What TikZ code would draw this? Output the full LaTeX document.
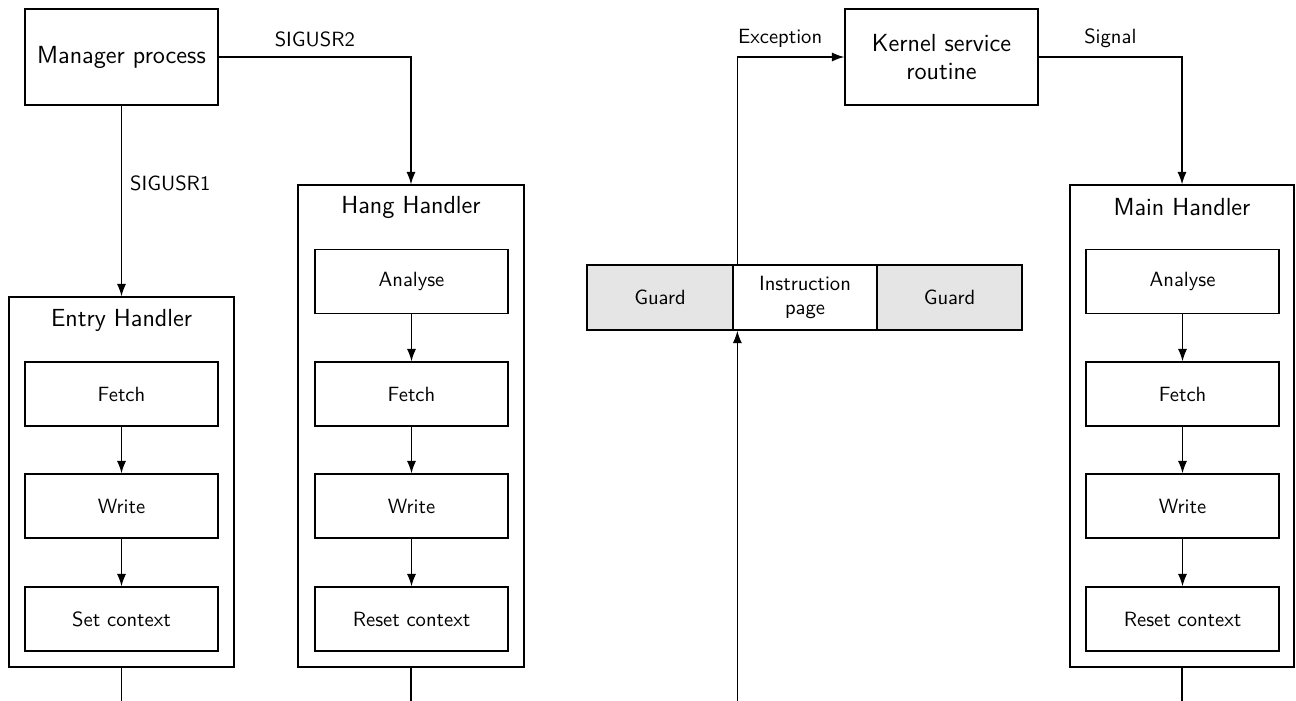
\documentclass[tikz,border=0pt]{standalone}
\usetikzlibrary{arrows.meta}
\newlength\px
\setlength\px{0.4854pt}
\begin{document}
\begin{tikzpicture}[x=0.4854pt,y=-0.4854pt,
  font=\sffamily,
  line width=0.65pt,
  >={Latex[length=6pt,width=4.4pt]},
  bigbox/.style={draw,minimum width=193\px,minimum height=96\px,inner sep=0pt,align=center,font=\sffamily\large},
  handler/.style={draw,inner sep=0pt},
  htitle/.style={font=\sffamily\large,inner sep=0pt},
  stepbox/.style={draw,minimum width=193\px,minimum height=64\px,inner sep=0pt},
  page/.style={draw,minimum height=65\px,inner sep=0pt,align=center},
  guardbox/.style={page,fill=gray!20},
  lbl/.style={font=\sffamily,inner sep=0pt}
]
\useasboundingbox (0,0) rectangle (1296,700);
\coordinate (base) at (0,701.2);

% top-level processes
\node[bigbox] (mgr) at (121.5,57) {Manager process};
\node[bigbox] (kernel) at (941.5,57) {Kernel service\\routine};

% handler frames
\node[handler,minimum width=225\px,minimum height=370\px] (entry) at (121.5,482) {};
\node[handler,minimum width=226\px,minimum height=482\px] (hang) at (411,426) {};
\node[handler,minimum width=224\px,minimum height=482\px] (main) at (1182,426) {};

\node[htitle] (entryT) at (121.5,320) {Entry Handler};
\node[htitle] (hangT) at (411,207) {Hang Handler};
\node[htitle] (mainT) at (1182,207) {Main Handler};

% entry handler steps
\node[stepbox] (e1) at (121.5,394) {Fetch};
\node[stepbox] (e2) at (121.5,506) {Write};
\node[stepbox] (e3) at (121.5,619) {Set context};

% hang handler steps
\node[stepbox] (h0) at (411.5,281.5) {Analyse};
\node[stepbox] (h1) at (411.5,394) {Fetch};
\node[stepbox] (h2) at (411.5,506) {Write};
\node[stepbox] (h3) at (411.5,619) {Reset context};

% main handler steps
\node[stepbox] (m0) at (1182.5,281.5) {Analyse};
\node[stepbox] (m1) at (1182.5,394) {Fetch};
\node[stepbox] (m2) at (1182.5,506) {Write};
\node[stepbox] (m3) at (1182.5,619) {Reset context};

% memory pages
\node[guardbox,minimum width=146\px] (g1) at (660,297.5) {Guard};
\node[page,minimum width=144\px] (instr) at (805,297.5) {Instruction\\page};
\node[guardbox,minimum width=145\px] (g2) at (949.5,297.5) {Guard};

\coordinate (itop) at ([xshift=5\px]instr.north west);
\coordinate (ibot) at ([xshift=5\px]instr.south west);

% signal paths
\draw[->] (mgr) -- node[lbl,pos=0.41,right=8\px] {SIGUSR1} (entry);
\draw[->] (mgr.east) -| node[lbl,pos=0.25,above=9\px] {SIGUSR2} (hang.north);
\draw[->] (itop) |- node[lbl,pos=0.7,above=9\px] {Exception} (kernel.west);
\draw[->] (kernel.east) -| node[lbl,pos=0.25,above=9\px] {Signal} (main.north);

% step chains
\draw[->] (e1) -- (e2);
\draw[->] (e2) -- (e3);
\draw[->] (h0) -- (h1);
\draw[->] (h1) -- (h2);
\draw[->] (h2) -- (h3);
\draw[->] (m0) -- (m1);
\draw[->] (m1) -- (m2);
\draw[->] (m2) -- (m3);

% return bus along the bottom edge
\coordinate (bE) at (entry.south |- base);
\coordinate (bH) at (hang.south |- base);
\coordinate (bI) at (ibot |- base);
\coordinate (bM) at (main.south |- base);
\draw (entry.south) -- (bE) -- (bM) -- (main.south);
\draw (hang.south) -- (bH);
\draw[->] (bI) -- (ibot);
\end{tikzpicture}
\end{document}
